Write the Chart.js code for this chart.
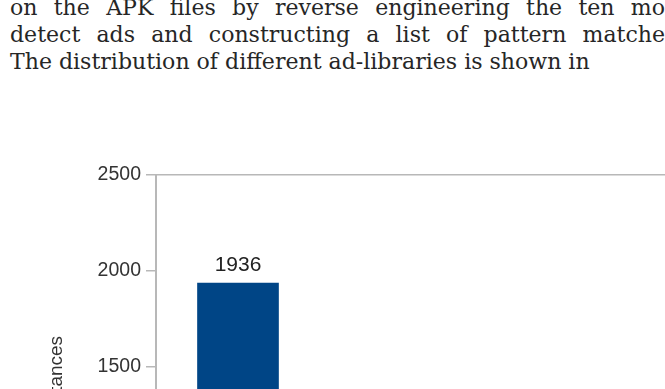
<!DOCTYPE html>
<html>
<head>
<meta charset="utf-8">
<script src="https://cdn.jsdelivr.net/npm/chart.js@4/dist/chart.umd.min.js"></script>
<style>
    html, body {
        margin: 0;
        padding: 0;
        width: 665px;
        height: 389px;
        overflow: hidden;
        background: #fff;
    }
    .page-text {
        position: absolute;
        left: 10px;
        top: -6px;
        font-family: "DejaVu Serif", serif;
        font-size: 19px;
        line-height: 27px;
        color: #262626;
        white-space: nowrap;
    }
    .chart-box {
        position: absolute;
        left: 0;
        top: 100px;
        width: 812px;
        height: 600px;
    }
</style>
</head>
<body>
<div class="page-text" id="page-text">
    <div id="line-1">on the APK files by reverse engineering the ten most popular ad-libraries</div>
    <div id="line-2">detect ads and constructing a list of pattern matches for them.</div>
    <div><span id="line-3">The distribution of different ad-libraries is shown in</span></div>
</div>
<div class="chart-box"><canvas id="chart"></canvas></div>
<script>
// data
const adLibraries = ['Google AdMob'];
const instances = [1936];
const yMin = 0;
const yMax = 2500;
const yStep = 500;

// size the serif text so the last line ends where the scan does
const pageText = document.getElementById('page-text');
const lastWidth = document.getElementById('line-3').getBoundingClientRect().width;
const fontSize = 19 * 580 / lastWidth;
pageText.style.fontSize = fontSize + 'px';
// DejaVu Serif ascent/descent, to put the first baseline at y=15
pageText.style.top = (15 - ((27 - 1.164 * fontSize) / 2 + 0.928 * fontSize)) + 'px';

// justified lines: stretch the spaces so the visible part reaches the edge
function justify(lineId, visiblePart, targetWidth) {
    const probe = document.createElement('span');
    probe.textContent = visiblePart;
    pageText.appendChild(probe);
    const w = probe.getBoundingClientRect().width;
    pageText.removeChild(probe);
    const spaces = visiblePart.split(' ').length - 1;
    document.getElementById(lineId).style.wordSpacing = ((targetWidth - w) / spaces) + 'px';
}
justify('line-1', 'on the APK files by reverse engineering the ten mo', 655);
justify('line-2', 'detect ads and constructing a list of pattern matche', 655);

// value label above each bar
const barLabels = {
    id: 'barLabels',
    afterDatasetsDraw(chart) {
        const ctx = chart.ctx;
        const meta = chart.getDatasetMeta(0);
        ctx.save();
        ctx.font = '21px "Liberation Sans"';
        ctx.fillStyle = '#222';
        ctx.textAlign = 'center';
        ctx.textBaseline = 'bottom';
        meta.data.forEach((bar, i) => {
            ctx.fillText(String(instances[i]), bar.x, bar.y - 7);
        });
        ctx.restore();
    }
};

const ctx = document.getElementById('chart').getContext('2d');
new Chart(ctx, {
    type: 'bar',
    data: {
        datasets: [{
            label: 'Instances',
            data: instances.map((v, i) => ({ x: i + 1, y: v })),
            backgroundColor: '#004586',
            borderWidth: 0,
            barThickness: 81
        }]
    },
    options: {
        responsive: true,
        maintainAspectRatio: false,
        animation: false,
        layout: {
            padding: { top: 75, left: 0, right: 0, bottom: 45.8 }
        },
        scales: {
            x: {
                type: 'linear',
                min: 0.5,
                max: 4.5,
                offset: false,
                display: false
            },
            y: {
                min: yMin,
                max: yMax,
                afterFit: function(scale) {
                    scale.width = 156;
                },
                ticks: {
                    stepSize: yStep,
                    padding: 5,
                    color: '#333',
                    font: { family: 'Liberation Sans', size: 19.5 },
                    callback: function(value) {
                        return String(value);
                    }
                },
                grid: {
                    color: function(c) {
                        return c.tick && c.tick.value === yMax ? '#b8b8b8' : 'rgba(0,0,0,0)';
                    },
                    tickColor: '#b8b8b8',
                    tickLength: 10,
                    lineWidth: 1.5
                },
                border: {
                    display: true,
                    color: '#b8b8b8',
                    width: 2
                },
                title: {
                    display: true,
                    text: 'Count of instances',
                    color: '#333',
                    font: { family: 'Liberation Sans', size: 19 },
                    padding: { top: 45, bottom: 0 }
                }
            }
        },
        plugins: {
            legend: { display: false },
            tooltip: { enabled: false }
        }
    },
    plugins: [barLabels]
});
</script>
</body>
</html>
